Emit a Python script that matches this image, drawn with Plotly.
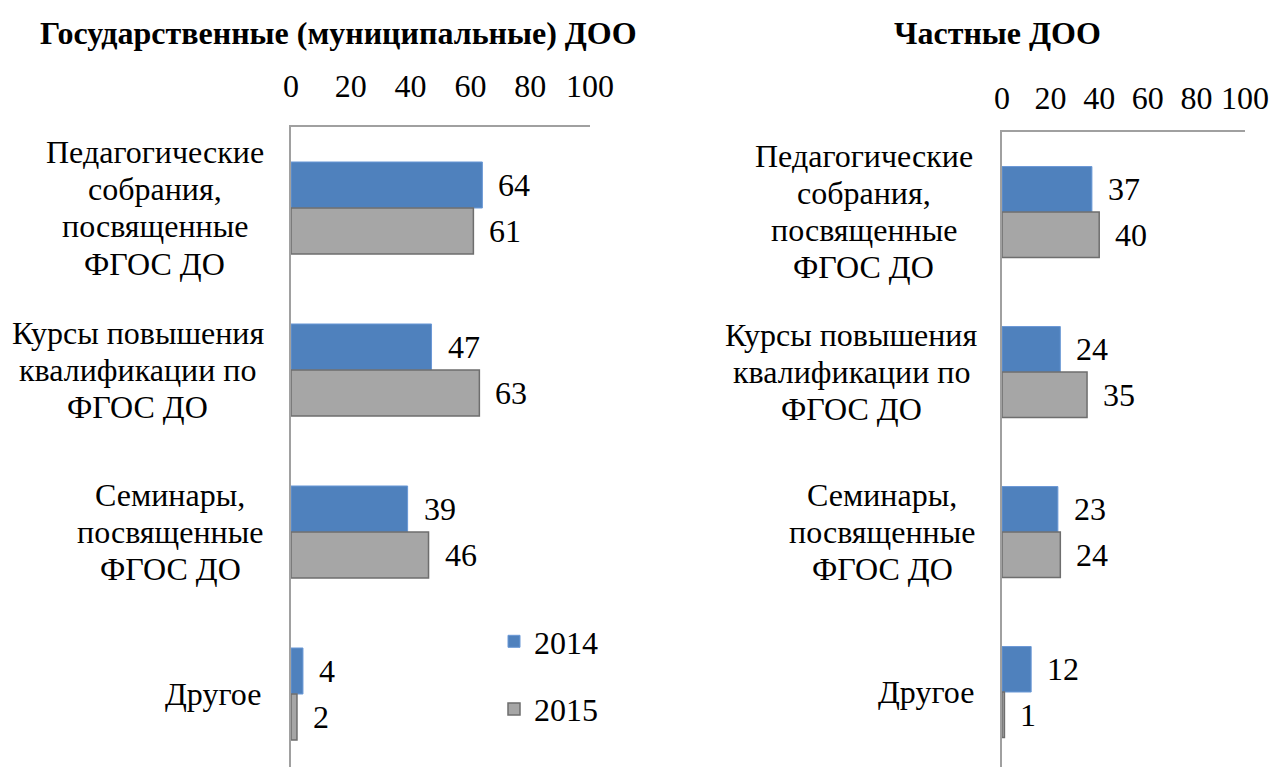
import plotly.graph_objects as go

categories = ["Педагогические собрания, посвященные ФГОС ДО",
              "Курсы повышения квалификации по ФГОС ДО",
              "Семинары, посвященные ФГОС ДО",
              "Другое"]
cat_lines = [["Педагогические", "собрания,", "посвященные", "ФГОС ДО"],
             ["Курсы повышения", "квалификации по", "ФГОС ДО"],
             ["Семинары,", "посвященные", "ФГОС ДО"],
             ["Другое"]]
years = ["2014", "2015"]
state_2014 = [64, 47, 39, 4]
state_2015 = [61, 63, 46, 2]
private_2014 = [37, 24, 23, 12]
private_2015 = [40, 35, 24, 1]
x_ticks = [0, 20, 40, 60, 80, 100]
titles = ["Государственные (муниципальные) ДОО", "Частные ДОО"]

BLUE = "#4F81BD"
GRAY = "#A6A6A6"
FONT = "Liberation Serif"
FS = 32
W, H = 1272, 767
LINE_H = 37

# label block centres (px) for left and right panels
label_cx_left = [154.5, 137.5, 170, 213]
label_cx_right = [863.5, 851, 882, 926]

fig = go.Figure()

def add_bars(xa, ya, v14, v15, show):
    fig.add_trace(go.Bar(y=categories, x=v14, orientation="h", name=years[0],
                         marker=dict(color=BLUE, line=dict(color="#6a98d6", width=1)),
                         xaxis=xa, yaxis=ya, showlegend=show, legendgroup="a"))
    fig.add_trace(go.Bar(y=categories, x=v15, orientation="h", name=years[1],
                         marker=dict(color=GRAY, line=dict(color="#6e6e6e", width=1.5)),
                         xaxis=xa, yaxis=ya, showlegend=show, legendgroup="b"))

add_bars("x", "y", state_2014, state_2015, True)
add_bars("x2", "y2", private_2014, private_2015, False)

bargap = 0.432
bw = (1 - bargap) / 2

annotations = []
# value labels
for xref, yref, v14, v15 in [("x", "y", state_2014, state_2015),
                             ("x2", "y2", private_2014, private_2015)]:
    for i in range(len(categories)):
        for val, off in [(v14[i], -bw / 2), (v15[i], bw / 2)]:
            annotations.append(dict(x=val, y=i + off, xref=xref, yref=yref,
                                    text=str(val), showarrow=False, xanchor="left",
                                    yanchor="middle", xshift=14,
                                    font=dict(family=FONT, size=FS, color="black")))

# category labels, one annotation per line for Word-like line spacing
for yref, centres in [("y", label_cx_left), ("y2", label_cx_right)]:
    for i, lines in enumerate(cat_lines):
        n = len(lines)
        for k, line in enumerate(lines):
            annotations.append(dict(x=centres[i] / W, y=i, xref="paper", yref=yref,
                                    text=line, showarrow=False, xanchor="center",
                                    yanchor="middle",
                                    yshift=-(k - (n - 1) / 2) * LINE_H,
                                    font=dict(family=FONT, size=FS, color="black")))

# titles
for t, xc in zip(titles, [338 / W, 997 / W]):
    annotations.append(dict(x=xc, y=1 - 33 / H, xref="paper", yref="paper",
                            text="<b>" + t + "</b>", showarrow=False,
                            xanchor="center", yanchor="middle",
                            font=dict(family=FONT, size=32, color="black")))

axis_common = dict(range=[0, 100], tickvals=x_ticks, side="top", showgrid=False,
                   zeroline=False, showline=True, linecolor="#a0a0a0", linewidth=2,
                   ticks="", automargin=False,
                   tickfont=dict(family=FONT, size=FS, color="black"))
yaxis_common = dict(showgrid=False, zeroline=False, showline=True,
                    linecolor="#a0a0a0", linewidth=2, showticklabels=False,
                    ticks="", type="category", automargin=False)

fig.update_layout(
    width=W, height=H,
    margin=dict(l=0, r=0, t=0, b=0, pad=0, autoexpand=False),
    paper_bgcolor="white", plot_bgcolor="white",
    barmode="group", bargap=bargap, bargroupgap=0,
    xaxis=dict(domain=[291 / W, 590 / W], anchor="y", ticklabelstandoff=15,
               **axis_common),
    yaxis=dict(domain=[0, 1 - 127 / H], anchor="x",
               range=[-0.5 + (H - 127) / 162, -0.5], **yaxis_common),
    xaxis2=dict(domain=[1002 / W, 1245 / W], anchor="y2", ticklabelstandoff=8,
                **axis_common),
    yaxis2=dict(domain=[0, 1 - 132 / H], anchor="x2",
                range=[-0.5 + (H - 132) / 160, -0.5], **yaxis_common),
    legend=dict(x=494 / W, y=1 - 614 / H, xanchor="left", yanchor="top",
                font=dict(family=FONT, size=FS, color="black"),
                tracegroupgap=23, bgcolor="rgba(0,0,0,0)"),
    annotations=annotations,
    font=dict(family=FONT, color="black"),
)

fig.write_html("out.html", config={"displayModeBar": False},
               post_script="document.body.style.margin='0';")
